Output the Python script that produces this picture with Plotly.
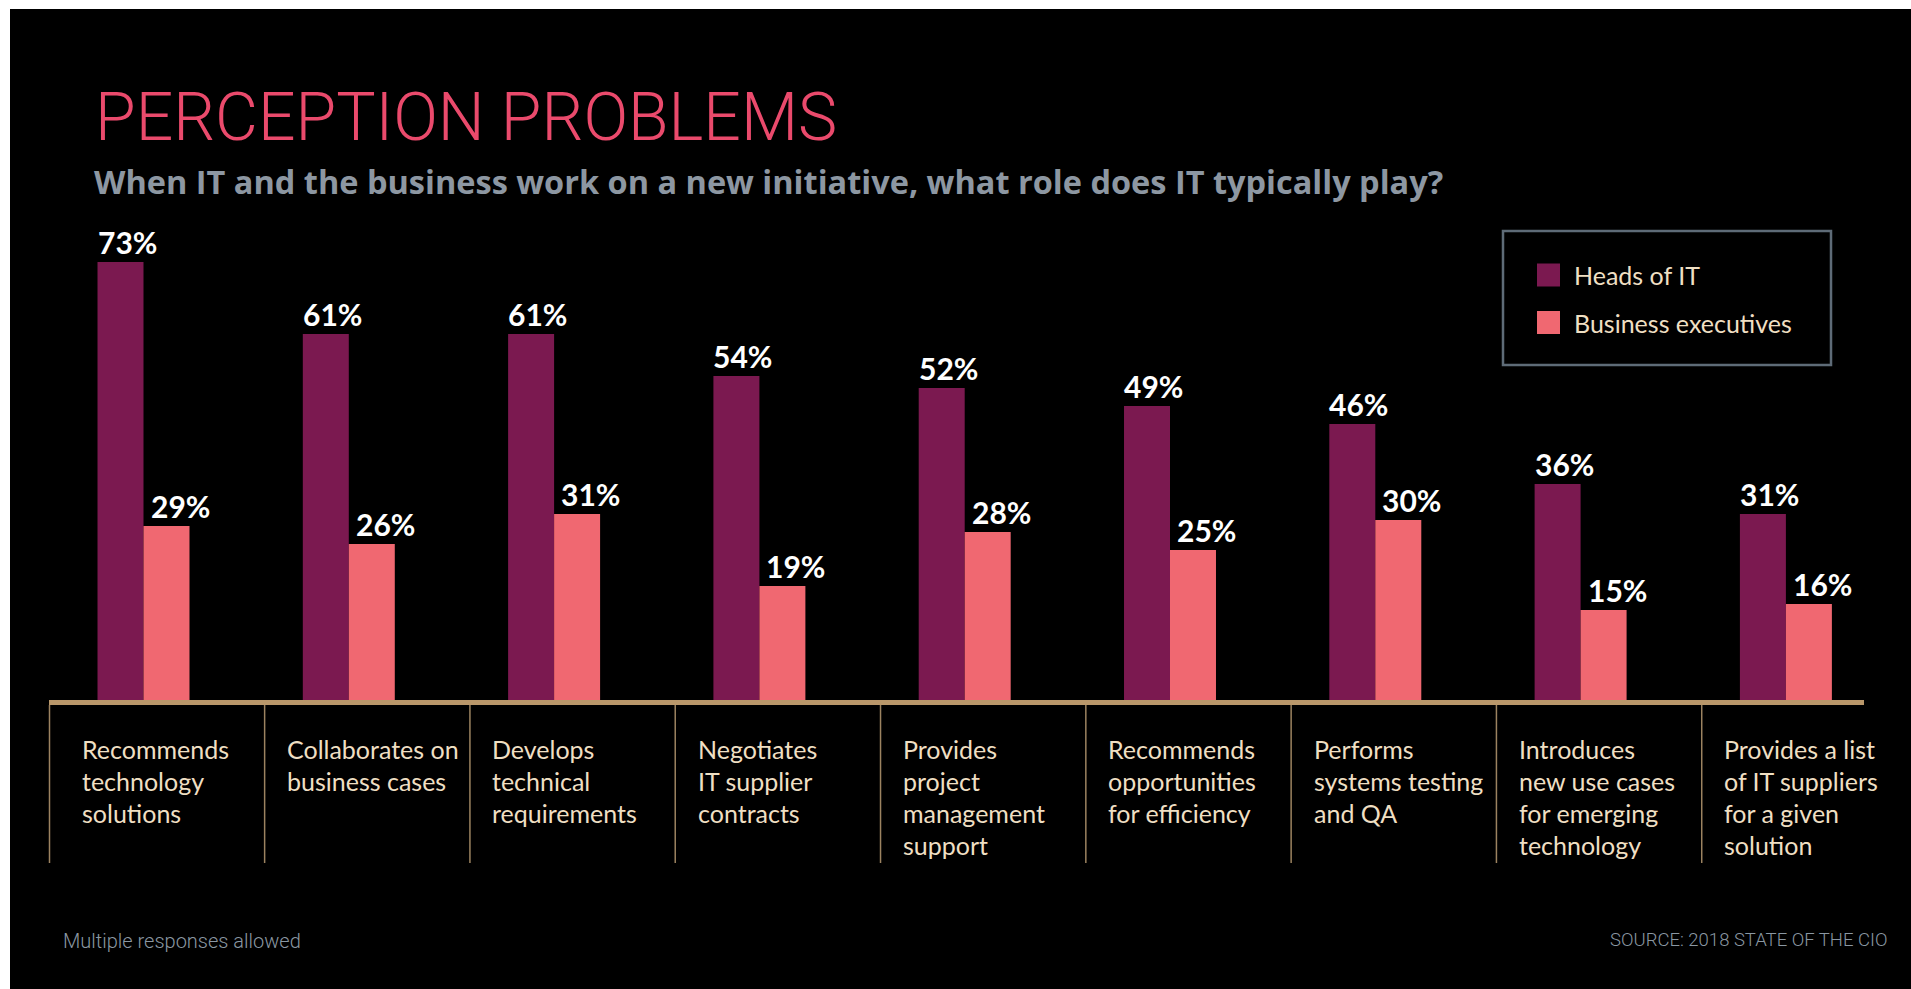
import plotly.graph_objects as go

W, H = 1911, 989

# ---- data -------------------------------------------------------------
roles = [
    "Recommends technology solutions",
    "Collaborates on business cases",
    "Develops technical requirements",
    "Negotiates IT supplier contracts",
    "Provides project management support",
    "Recommends opportunities for efficiency",
    "Performs systems testing and QA",
    "Introduces new use cases for emerging technology",
    "Provides a list of IT suppliers for a given solution",
]
role_labels = [
    "Recommends<br>technology<br>solutions",
    "Collaborates on<br>business cases",
    "Develops<br>technical<br>requirements",
    "Negotiates<br>IT supplier<br>contracts",
    "Provides<br>project<br>management<br>support",
    "Recommends<br>opportunities<br>for efficiency",
    "Performs<br>systems testing<br>and QA",
    "Introduces<br>new use cases<br>for emerging<br>technology",
    "Provides a list<br>of IT suppliers<br>for a given<br>solution",
]
heads_of_it = [73, 61, 61, 54, 52, 49, 46, 36, 31]
business_execs = [29, 26, 31, 19, 28, 25, 30, 15, 16]
series_names = ["Heads of IT", "Business executives"]
series_colors = ["#7B1950", "#F06871"]

# ---- geometry helpers -------------------------------------------------
PX_PER_PCT = 6.0      # vertical scale
BASE_PX = 700         # pixel row of the zero line
UNIT_PX = 205.3       # distance between category centres
FIRST_PX = 143.5      # centre of the first category
BARGAP = 0.552
BAR_UNITS = (1 - BARGAP) / 2

x_lo = -FIRST_PX / UNIT_PX
x_hi = x_lo + W / UNIT_PX
y_hi = BASE_PX / PX_PER_PCT
y_lo = (BASE_PX - H) / PX_PER_PCT


def xd(px):
    return x_lo + px / UNIT_PX


def yd(px):
    return (BASE_PX - px) / PX_PER_PCT


def xp(px):
    return px / W


def yp(px):
    return 1 - px / H


NARROW = "Lato, Roboto, sans-serif"
LIGHT = "Roboto, Lato, Open Sans, sans-serif"
CREAM = "#EFDFC3"
TAN = "#B9976A"

fig = go.Figure()
for name, vals, col in zip(series_names, [heads_of_it, business_execs], series_colors):
    fig.add_bar(x=roles, y=vals, name=name, marker=dict(color=col, line=dict(width=0)),
                showlegend=False, hovertemplate="%{x}: %{y}%<extra>" + name + "</extra>")

shapes = []
annotations = []

# black panel
shapes.append(dict(type="rect", xref="paper", yref="paper", x0=xp(10), x1=1, y0=0, y1=yp(9),
                   fillcolor="#000000", line=dict(width=0), layer="below"))

# base line and column separators
shapes.append(dict(type="rect", xref="x", yref="y", x0=xd(49), x1=xd(1864), y0=yd(705), y1=yd(700),
                   fillcolor=TAN, line=dict(width=0), layer="above"))
for i in range(len(roles)):
    sx = xd(49.5) if i == 0 else i - 0.41
    shapes.append(dict(type="line", xref="x", yref="y", x0=sx, x1=sx, y0=yd(705), y1=yd(863),
                       line=dict(color="#9C8360", width=1.5)))

# value labels
VALUE_FONT = dict(family=NARROW, size=30, color="white", weight="bold")
for i, v in enumerate(heads_of_it):
    annotations.append(dict(x=i - BAR_UNITS, y=v, xref="x", yref="y", xanchor="left", yanchor="middle",
                            xshift=-2, yshift=20, text=f"{v}%", showarrow=False, font=VALUE_FONT))
for i, v in enumerate(business_execs):
    annotations.append(dict(x=i, y=v, xref="x", yref="y", xanchor="left", yanchor="middle",
                            xshift=5, yshift=20, text=f"{v}%", showarrow=False, font=VALUE_FONT))

# category labels, one line at a time
for i, lab in enumerate(role_labels):
    for k, line in enumerate(lab.split("<br>")):
        annotations.append(dict(x=i - 0.31, y=yp(748.5 + 32.2 * k), xref="x", yref="paper",
                                xanchor="left", yanchor="middle", text=line, showarrow=False,
                                font=dict(family=NARROW, size=25, color=CREAM)))

# legend
shapes.append(dict(type="rect", xref="paper", yref="paper", x0=xp(1503), x1=xp(1831), y0=yp(365), y1=yp(231),
                   line=dict(color="#5E6B77", width=2.5), fillcolor="rgba(0,0,0,0)"))
for k, (name, col) in enumerate(zip(series_names, series_colors)):
    cy = 275 + 47.5 * k
    shapes.append(dict(type="rect", xref="paper", yref="paper", x0=xp(1537), x1=xp(1560),
                       y0=yp(cy + 11.5), y1=yp(cy - 11.5), fillcolor=col, line=dict(width=0)))
    annotations.append(dict(x=xp(1572), y=yp(cy), xref="paper", yref="paper", xanchor="left",
                            yanchor="middle", text=name, showarrow=False,
                            font=dict(family=NARROW, size=25, color=CREAM)))

# titles and notes
annotations.append(dict(x=xp(93), y=yp(117.7), xref="paper", yref="paper", xanchor="left", yanchor="middle",
                        text="PERCEPTION PROBLEMS", showarrow=False,
                        font=dict(family=LIGHT, size=66, color="#EA4A6C", weight=300)))
annotations.append(dict(x=xp(92), y=yp(181.5), xref="paper", yref="paper", xanchor="left", yanchor="middle",
                        text="When IT and the business work on a new initiative, what role does IT typically play?",
                        showarrow=False,
                        font=dict(family="Open Sans, Liberation Sans, sans-serif", size=32.5, color="#8D97A2",
                                  weight="bold")))
annotations.append(dict(x=xp(61), y=yp(941), xref="paper", yref="paper", xanchor="left", yanchor="middle",
                        text="Multiple responses allowed", showarrow=False,
                        font=dict(family=LIGHT, size=20, color="#8A97A2", weight=300)))
annotations.append(dict(x=xp(1889), y=yp(940), xref="paper", yref="paper", xanchor="right", yanchor="middle",
                        text="SOURCE: 2018 STATE OF THE CIO", showarrow=False,
                        font=dict(family=LIGHT, size=18.5, color="#8A97A2", weight=300)))

fig.update_layout(
    width=W, height=H, autosize=False,
    margin=dict(l=0, r=0, t=0, b=0, pad=0),
    paper_bgcolor="white", plot_bgcolor="white",
    barmode="group", bargap=BARGAP, bargroupgap=0,
    showlegend=False,
    xaxis=dict(type="category", categoryorder="array", categoryarray=roles,
               range=[x_lo, x_hi], visible=False, fixedrange=True),
    yaxis=dict(range=[y_lo, y_hi], visible=False, fixedrange=True),
    shapes=shapes, annotations=annotations,
)

fig.write_html("out.html", config={"displayModeBar": False})
